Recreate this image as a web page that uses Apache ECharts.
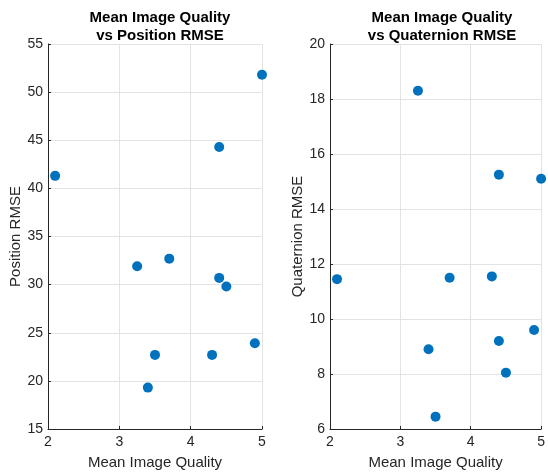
<!DOCTYPE html>
<html>
<head>
<meta charset="utf-8">
<script src="https://cdn.jsdelivr.net/npm/echarts@6/dist/echarts.min.js"></script>
<style>
  html, body { margin: 0; padding: 0; background: #fff; }
  #chart { width: 548px; height: 475px; }
</style>
</head>
<body>
<div id="chart"></div>
<script>
  // values
  var quality = [2.1, 3.25, 3.4, 3.5, 3.7, 4.3, 4.4, 4.4, 4.5, 4.9, 5.0];
  var positionRmse = [41.3, 31.9, 19.3, 22.7, 32.7, 22.7, 44.3, 30.7, 29.8, 23.9, 51.8];
  var quaternionRmse = [11.45, 18.3, 8.9, 6.45, 11.5, 11.55, 15.25, 9.2, 8.05, 9.6, 15.1];

  var font = 'Liberation Sans, Arial, Helvetica, sans-serif';
  var dark = '#262626';

  function pairs(xs, ys) {
    var out = [];
    for (var i = 0; i < xs.length; i++) out.push([xs[i], ys[i]]);
    return out;
  }

  function xAxis(idx) {
    return {
      gridIndex: idx, type: 'value', min: 2, max: 5, interval: 1,
      name: 'Mean Image Quality', nameLocation: 'middle', nameGap: 26,
      nameTextStyle: { fontFamily: font, fontSize: 15, color: dark },
      axisLine: { show: true, lineStyle: { color: dark, width: 1 } },
      axisTick: { show: true, inside: true, length: 3, lineStyle: { color: dark } },
      axisLabel: { fontFamily: font, fontSize: 14, color: dark, margin: 6 },
      splitLine: { show: true, lineStyle: { color: '#e3e3e3' } }
    };
  }

  function yAxis(idx, min, max, step, name) {
    return {
      gridIndex: idx, type: 'value', min: min, max: max, interval: step,
      name: name, nameLocation: 'middle', nameGap: 25,
      nameTextStyle: { fontFamily: font, fontSize: 15, color: dark },
      axisLine: { show: true, lineStyle: { color: dark, width: 1 } },
      axisTick: { show: true, inside: true, length: 3, lineStyle: { color: dark } },
      axisLabel: { fontFamily: font, fontSize: 14, color: dark, margin: 5 },
      splitLine: { show: true, lineStyle: { color: '#e3e3e3' } }
    };
  }

  var titleStyle = { fontFamily: font, fontSize: 15, fontWeight: 'bold', color: '#000', lineHeight: 18 };

  var chart = echarts.init(document.getElementById('chart'));
  chart.setOption({
    animation: false,
    title: [
      { text: 'Mean Image Quality\nvs Position RMSE', left: 155, top: 4, textAlign: 'center', textStyle: titleStyle },
      { text: 'Mean Image Quality\nvs Quaternion RMSE', left: 437, top: 4, textAlign: 'center', textStyle: titleStyle }
    ],
    grid: [
      { left: 48, top: 44, width: 214, height: 385 },
      { left: 330, top: 44, width: 214, height: 385 }
    ],
    xAxis: [xAxis(0), xAxis(1)],
    yAxis: [
      yAxis(0, 15, 55, 5, 'Position RMSE'),
      yAxis(1, 6, 20, 2, 'Quaternion RMSE')
    ],
    series: [
      {
        type: 'scatter', xAxisIndex: 0, yAxisIndex: 0,
        data: pairs(quality, positionRmse),
        symbolSize: 10, itemStyle: { color: '#0072BD', opacity: 1 }
      },
      {
        type: 'scatter', xAxisIndex: 1, yAxisIndex: 1,
        data: pairs(quality, quaternionRmse),
        symbolSize: 10, itemStyle: { color: '#0072BD', opacity: 1 }
      }
    ]
  });
</script>
</body>
</html>
